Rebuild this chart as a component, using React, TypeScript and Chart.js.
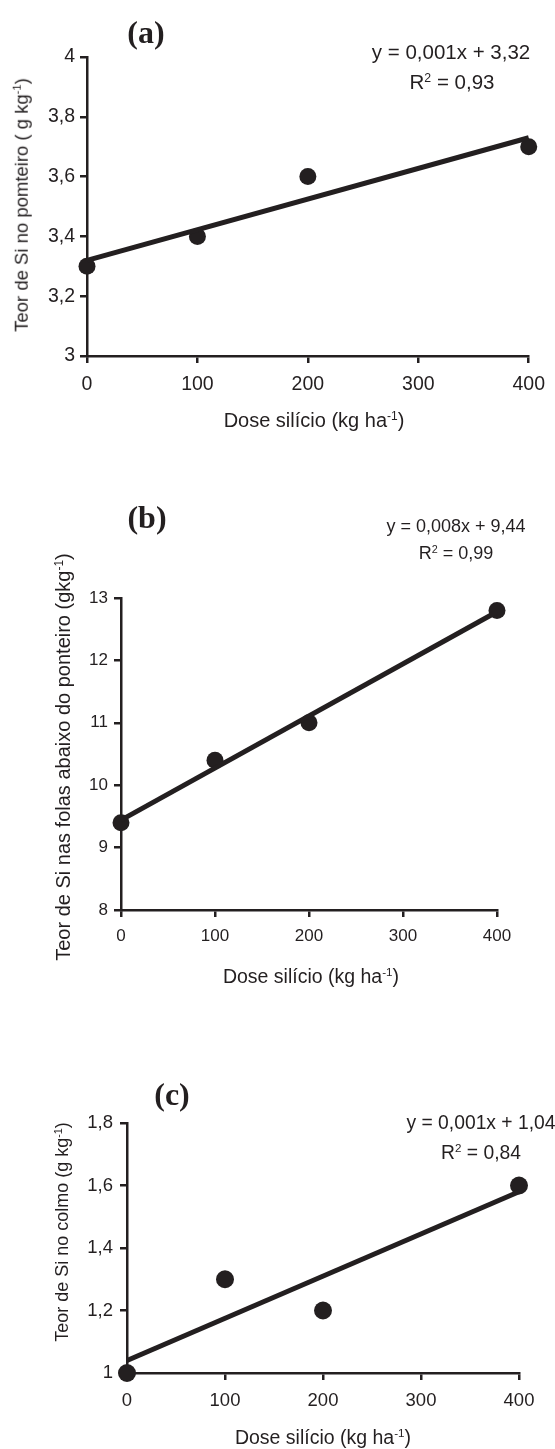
import React, { useEffect, useRef } from 'react';
import { Chart, registerables } from 'chart.js';

Chart.register(...registerables);

// ---------- data ----------
const doses = [0, 100, 200, 400];
const teorPonteiro = [3.3, 3.4, 3.6, 3.7];
const teorFolhas = [9.4, 10.4, 11.0, 12.8];
const teorColmo = [1.0, 1.3, 1.2, 1.6];

const trendX = [0, 400];
const trendPonteiro = [3.32, 3.73];
const trendFolhas = [9.44, 12.78];
const trendColmo = [1.04, 1.58];

const xTickValues = [0, 100, 200, 300, 400];
const xTickLabels = ['0', '100', '200', '300', '400'];
const yTickValuesA = [3, 3.2, 3.4, 3.6, 3.8, 4];
const yTickLabelsA = ['3', '3,2', '3,4', '3,6', '3,8', '4'];
const yTickValuesB = [8, 9, 10, 11, 12, 13];
const yTickLabelsB = ['8', '9', '10', '11', '12', '13'];
const yTickValuesC = [1, 1.2, 1.4, 1.6, 1.8];
const yTickLabelsC = ['1', '1,2', '1,4', '1,6', '1,8'];

const panelLabels = ['(a)', '(b)', '(c)'];
const equations = ['y = 0,001x + 3,32', 'y = 0,008x + 9,44', 'y = 0,001x + 1,04'];
const r2Values = ['0,93', '0,99', '0,84'];
const yTitles = ['Teor de Si no pomteiro ( g kg', 'Teor de Si nas folas abaixo do ponteiro (gkg', 'Teor de Si no colmo (g kg'];
const xTitle = 'Dose silício (kg ha';

// ---------- style ----------
const INK = '#231f20';
const SANS = '"Liberation Sans", Arial, sans-serif';
const SERIF = '"Liberation Serif", "Times New Roman", serif';
const W = 555;

type Panel = {
  top: number; height: number;
  area: { l: number; r: number; t: number; b: number };
  yMin: number; yMax: number;
  yValues: number[]; yLabels: string[];
  values: number[]; trend: number[];
  tickFont: number; yPad: number; xPad: number; radius: number;
};

const panels: Panel[] = [
  { top: 0, height: 440, area: { l: 87, r: 537, t: 57, b: 356 }, yMin: 3, yMax: 4,
    yValues: yTickValuesA, yLabels: yTickLabelsA, values: teorPonteiro, trend: trendPonteiro,
    tickFont: 19.5, yPad: 5, xPad: 10, radius: 8.5 },
  { top: 440, height: 520, area: { l: 121, r: 497, t: 598, b: 910 }, yMin: 8, yMax: 13,
    yValues: yTickValuesB, yLabels: yTickLabelsB, values: teorFolhas, trend: trendFolhas,
    tickFont: 17, yPad: 6, xPad: 9, radius: 8.5 },
  { top: 960, height: 489, area: { l: 127, r: 519, t: 1123, b: 1373 }, yMin: 1, yMax: 1.8,
    yValues: yTickValuesC, yLabels: yTickLabelsC, values: teorColmo, trend: trendColmo,
    tickFont: 18.5, yPad: 7, xPad: 10, radius: 9 },
];

function PanelChart({ p }: { p: Panel }) {
  const ref = useRef<HTMLCanvasElement | null>(null);
  useEffect(() => {
    if (!ref.current) return;
    const areaTop = p.area.t - p.top;
    const areaBottom = p.area.b - p.top;
    const chart = new Chart(ref.current, {
      type: 'scatter',
      data: {
        datasets: [
          {
            data: trendX.map((x, i) => ({ x, y: p.trend[i] })),
            showLine: true,
            borderColor: INK,
            borderWidth: 5,
            pointRadius: 0,
            clip: false as any,
          },
          {
            data: doses.map((x, i) => ({ x, y: p.values[i] })),
            showLine: false,
            pointRadius: p.radius,
            pointBackgroundColor: INK,
            pointBorderWidth: 0,
            pointBorderColor: INK,
            clip: false as any,
          },
        ],
      },
      options: {
        responsive: false,
        animation: false,
        events: [],
        layout: { padding: { top: areaTop, right: W - p.area.r, left: 0, bottom: 0 } },
        plugins: { legend: { display: false }, tooltip: { enabled: false } },
        scales: {
          x: {
            type: 'linear',
            min: 0,
            max: 400,
            afterFit: (s: any) => { s.height = p.height - areaBottom; },
            afterBuildTicks: (s: any) => { s.ticks = xTickValues.map((v) => ({ value: v })); },
            ticks: {
              color: INK,
              font: { family: SANS, size: p.tickFont },
              padding: p.xPad,
              maxRotation: 0,
              callback: (_v: any, i: number) => xTickLabels[i],
            },
            grid: { display: true, drawOnChartArea: false, drawTicks: true, tickLength: 7, lineWidth: 2.5, color: INK },
            border: { display: true, color: INK, width: 2.5 },
          },
          y: {
            type: 'linear',
            min: p.yMin,
            max: p.yMax,
            afterFit: (s: any) => { s.width = p.area.l; },
            afterBuildTicks: (s: any) => { s.ticks = p.yValues.map((v) => ({ value: v })); },
            ticks: {
              color: INK,
              font: { family: SANS, size: p.tickFont },
              padding: p.yPad,
              callback: (_v: any, i: number) => p.yLabels[i],
            },
            grid: { display: true, drawOnChartArea: false, drawTicks: true, tickLength: 7, lineWidth: 2.5, color: INK },
            border: { display: true, color: INK, width: 2.5 },
          },
        },
      } as any,
    });
    return () => chart.destroy();
  }, [p]);
  return (
    <canvas
      ref={ref}
      width={W}
      height={p.height}
      style={{ position: 'absolute', left: 0, top: p.top, width: W, height: p.height }}
    />
  );
}

function Txt(props: { x: number; y: number; size: number; rotate?: boolean; bold?: boolean; serif?: boolean; children: any }) {
  const { x, y, size, rotate, bold, serif, children } = props;
  return (
    <div
      style={{
        position: 'absolute',
        left: x,
        top: y,
        transform: `translate(-50%, -50%)${rotate ? ' rotate(-90deg)' : ''}`,
        fontSize: size,
        fontFamily: serif ? SERIF : SANS,
        fontWeight: bold ? 'bold' : 'normal',
        whiteSpace: 'nowrap',
        lineHeight: 1,
        color: INK,
      }}
    >
      {children}
    </div>
  );
}

const Sup = ({ children }: { children: any }) => (
  <span style={{ fontSize: '0.6em', position: 'relative', top: '-0.6em' }}>{children}</span>
);

type TextSpec = {
  label: [number, number]; eq: [number, number]; r2: [number, number]; eqSize: number;
  yTitle: [number, number]; yTitleSize: number; xTitle: [number, number]; xTitleSize: number;
};

const textSpecs: TextSpec[] = [
  { label: [146, 32], eq: [451, 52], r2: [452, 82], eqSize: 20.5, yTitle: [22, 205], yTitleSize: 18.5, xTitle: [314, 420], xTitleSize: 20 },
  { label: [147, 517], eq: [456, 526], r2: [456, 553], eqSize: 18, yTitle: [63, 757], yTitleSize: 20, xTitle: [311, 977], xTitleSize: 19.5 },
  { label: [172, 1094], eq: [481, 1123], r2: [481, 1153], eqSize: 19.3, yTitle: [62, 1232], yTitleSize: 18, xTitle: [323, 1438], xTitleSize: 19.5 },
];

export default function App() {
  return (
    <div style={{ position: 'absolute', left: 0, top: 0, width: W, height: 1449, background: '#fff', overflow: 'hidden' }}>
      {panels.map((p, i) => (
        <PanelChart key={i} p={p} />
      ))}
      {textSpecs.map((t, i) => (
        <React.Fragment key={'t' + i}>
          <Txt x={t.label[0]} y={t.label[1]} size={32} bold serif>{panelLabels[i]}</Txt>
          <Txt x={t.eq[0]} y={t.eq[1]} size={t.eqSize}>{equations[i]}</Txt>
          <Txt x={t.r2[0]} y={t.r2[1]} size={t.eqSize}>R<Sup>2</Sup> = {r2Values[i]}</Txt>
          <Txt x={t.yTitle[0]} y={t.yTitle[1]} size={t.yTitleSize} rotate>{yTitles[i]}<Sup>-1</Sup>)</Txt>
          <Txt x={t.xTitle[0]} y={t.xTitle[1]} size={t.xTitleSize}>{xTitle}<Sup>-1</Sup>)</Txt>
        </React.Fragment>
      ))}
    </div>
  );
}
